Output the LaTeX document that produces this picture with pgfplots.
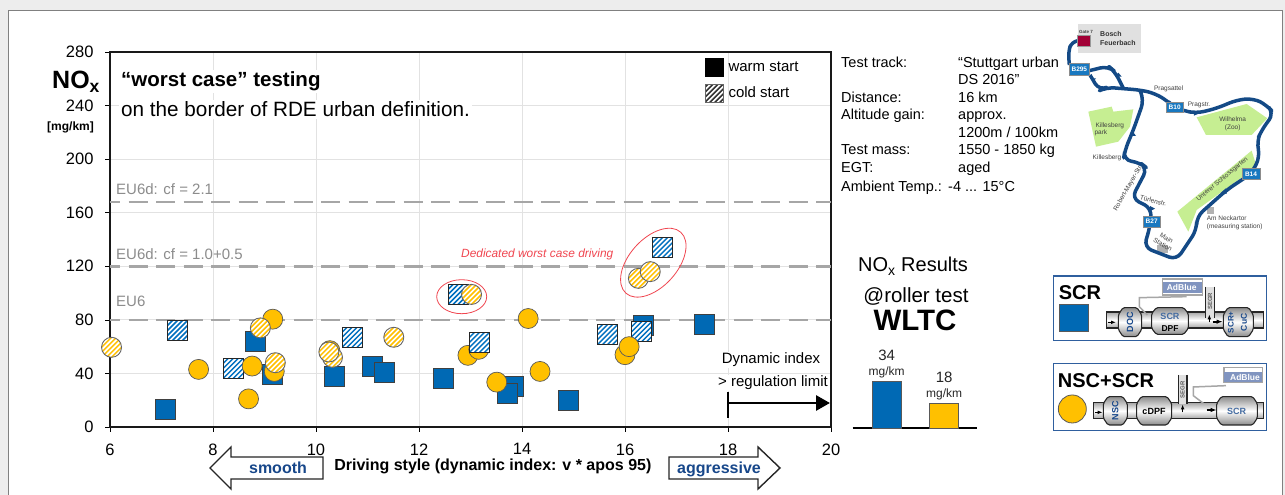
\documentclass[border=0pt]{standalone}
\usepackage{fontspec}
\setmainfont{Liberation Sans}
\usepackage{pgfplots}
\pgfplotsset{compat=1.18}
\usetikzlibrary{arrows.meta}

\definecolor{bblue}{RGB}{0,105,180}
\definecolor{borange}{RGB}{255,192,0}
\definecolor{hblue}{RGB}{0,112,192}
\definecolor{dashgray}{RGB}{166,166,166}
\definecolor{eugray}{RGB}{140,140,140}
\definecolor{gridgray}{RGB}{226,226,226}
\definecolor{navy}{RGB}{23,71,138}
\definecolor{route}{RGB}{20,74,134}
\definecolor{parkgreen}{RGB}{198,238,146}
\definecolor{roadblue}{RGB}{24,120,192}
\definecolor{boxblue}{RGB}{47,95,158}
\definecolor{adblue}{RGB}{128,148,192}
\definecolor{wred}{RGB}{240,70,80}

\newcommand\fs[1]{\fontsize{#1}{#1}\selectfont}
% text at baseline
\newcommand\txt[4]{\node[anchor=base west,inner sep=0pt] at (#1,#2) {\fs{#3}#4};}
\newcommand\ctxt[4]{\node[anchor=base,inner sep=0pt] at (#1,#2) {\fs{#3}#4};}

\newcommand\stripes[1]{%
  \pgfsetstrokecolor{#1}\pgfsetlinewidth{1.5pt}%
  \foreach \d in {-25,-20,...,25}{%
    \pgfpathmoveto{\pgfpointadd{\pgfpoint{\d pt}{0pt}}{\pgfpoint{-12pt}{-12pt}}}%
    \pgfpathlineto{\pgfpointadd{\pgfpoint{\d pt}{0pt}}{\pgfpoint{12pt}{12pt}}}%
  }%
  \pgfusepath{stroke}}
\pgfdeclareplotmark{hsq}{%
  \pgfsetfillcolor{white}\pgfpathrectangle{\pgfpoint{-10pt}{-10pt}}{\pgfpoint{20pt}{20pt}}\pgfusepath{fill}%
  \pgfscope\pgfpathrectangle{\pgfpoint{-10pt}{-10pt}}{\pgfpoint{20pt}{20pt}}\pgfusepath{clip}\stripes{hblue}\endpgfscope
  \pgfsetstrokecolor{black!85}\pgfsetlinewidth{0.9pt}%
  \pgfpathrectangle{\pgfpoint{-10pt}{-10pt}}{\pgfpoint{20pt}{20pt}}\pgfusepath{stroke}}
\pgfdeclareplotmark{hci}{%
  \pgfsetfillcolor{white}\pgfpathcircle{\pgfpointorigin}{10pt}\pgfusepath{fill}%
  \pgfscope\pgfpathcircle{\pgfpointorigin}{10pt}\pgfusepath{clip}\stripes{borange}\endpgfscope
  \pgfsetstrokecolor{black!60}\pgfsetlinewidth{0.9pt}%
  \pgfpathcircle{\pgfpointorigin}{10pt}\pgfusepath{stroke}}
\pgfdeclareplotmark{hleg}{%
  \pgfsetfillcolor{white}\pgfpathrectangle{\pgfpoint{-9pt}{-9pt}}{\pgfpoint{18pt}{18pt}}\pgfusepath{fill}%
  \pgfscope\pgfpathrectangle{\pgfpoint{-9pt}{-9pt}}{\pgfpoint{18pt}{18pt}}\pgfusepath{clip}\stripes{black!80}\endpgfscope
  \pgfsetstrokecolor{black!60}\pgfsetlinewidth{0.8pt}%
  \pgfpathrectangle{\pgfpoint{-9pt}{-9pt}}{\pgfpoint{18pt}{18pt}}\pgfusepath{stroke}}

\pgfplotstableread{
x y
7.07 13
8.82 64
9.16 39
10.36 38
11.09 45
11.33 41
12.48 36
13.84 30
13.72 25
14.90 20
16.36 76
17.54 77
}\warmsq
\pgfplotstableread{
x y
12.95 53.5
13.16 58
}\warmciA
\pgfplotstableread{
x y
7.31 72
8.40 44
10.70 67
13.17 63
12.76 99
15.66 69
16.32 71
16.73 134
}\coldsq
\pgfplotstableread{
x y
7.72 43
8.69 21
8.76 45.5
9.16 80.5
9.19 41.5
10.27 57
14.12 81
14.35 41.5
13.51 33.5
16.00 54
16.08 60
}\warmciB
\pgfplotstableread{
x y
6.03 59.5
8.92 74
9.21 48
10.32 52
10.25 56
11.51 67
13.02 99
16.26 111
16.49 116
}\coldci

% exhaust can: x1 x2 top bottom in zoom units
\newcommand\can[4]{%
  \draw[black!85,line width=1.1pt,rounded corners=1.5pt,top color=black!45,bottom color=black!45,middle color=white]
    (#1,{(#3+#4)/2-22}) -- (#1+14,#3) -- (#2-14,#3) -- (#2,{(#3+#4)/2-22}) -- (#2,{(#3+#4)/2+22}) -- (#2-14,#4) -- (#1+14,#4) -- (#1,{(#3+#4)/2+22}) -- cycle;}
\newcommand\pipe[3]{%
  \draw[black!85,line width=1.1pt,top color=black!35,bottom color=black!35,middle color=white,shading angle=0]
    (#1,#3-24) rectangle (#2,#3+24);}
\newcommand\egr[3]{%
  \fill[black!12] (#1,#2) rectangle (#1+26,#3);
  \draw[black!85,line width=1.1pt] (#1,#2) -- (#1,#3) (#1+26,#2) -- (#1+26,#3);
  \node[rotate=90,text=black!65,inner sep=0pt] at (#1+13,{#2+44}) {\fs{6}\bfseries SEGR};}

\begin{document}
\begin{tikzpicture}
\begin{scope}[yshift=495pt,x=1pt,y=-1pt]
  \path[use as bounding box] (0,0) rectangle (1285,495);
  \fill[black!7] (0,0) rectangle (1285,495);
  \fill[white] (8,10) rectangle (1282,495);
  \draw[black!50,line width=0.8pt] (8,495) -- (8,10) -- (1282,10) -- (1282,495);
\end{scope}

\begin{axis}[
    at={(110pt,68pt)},anchor=south west,
    scale only axis,width=721pt,height=375pt,
    xmin=6,xmax=20,ymin=0,ymax=280,
    xtick={6,8,...,20},ytick={0,40,...,280},
    grid=major,
    grid style={gridgray,line width=0.8pt},
    tick align=outside,xtick pos=bottom,ytick pos=left,
    major tick length=5pt,
    tick style={black,line width=0.7pt},
    axis line style={black!90,line width=1.4pt},
    ticklabel style={font=\fs{16.5}},
    /pgf/number format/assume math mode=true,
    xticklabel style={yshift=-8pt},
    yticklabel style={xshift=-8pt},
    xlabel={\fs{16}\bfseries Driving style (dynamic index: v * apos 95)},
    xlabel style={at={(axis description cs:0.531,0)},anchor=center,yshift=-39pt,inner sep=0pt},
    clip=false,
    legend style={at={(axis description cs:0.8246,0.984)},anchor=north west,draw=none,fill=none,
       font=\fs{15},row sep=7.5pt,inner sep=0pt,nodes={inner xsep=5pt,inner ysep=1.5pt}},
    legend cell align=left,
    every axis plot/.append style={forget plot},
  ]
  \addplot[dashgray,line width=2.7pt,dash pattern=on 19pt off 8.5pt,dash phase=9pt] coordinates {(6,168) (20,168)};
  \addplot[dashgray,line width=2.7pt,dash pattern=on 19pt off 8.5pt,dash phase=9pt] coordinates {(6,120) (20,120)};
  \addplot[dashgray,line width=2.7pt,dash pattern=on 19pt off 8.5pt,dash phase=9pt] coordinates {(6,80) (20,80)};
  \addplot[only marks,mark=square*,mark size=10pt,mark options={fill=bblue,draw=black!75,line width=0.7pt}] table {\warmsq};
  \addplot[only marks,mark=*,mark size=10pt,mark options={fill=borange,draw=black!65,line width=0.7pt}] table {\warmciA};
  \addplot[only marks,mark=hsq] table {\coldsq};
  \addplot[only marks,mark=*,mark size=10pt,mark options={fill=borange,draw=black!65,line width=0.7pt}] table {\warmciB};
  \addplot[only marks,mark=hci] table {\coldci};
  \addlegendimage{only marks,mark=square*,mark size=9pt,mark options={fill=black,draw=black}}
  \addlegendentry{warm start}
  \addlegendimage{only marks,mark=hleg}
  \addlegendentry{cold start}
\end{axis}

\begin{axis}[
    at={(852.7pt,67pt)},anchor=south west,
    scale only axis,width=124.3pt,height=68pt,
    xmin=-0.59,xmax=1.57,ymin=0,ymax=50,
    axis x line=bottom,axis y line=none,
    axis line style={black,line width=1.2pt,-},
    xtick=\empty,ytick=\empty,
    clip=false,
    /pgf/number format/assume math mode=true,
    ybar,bar width=29.3pt,bar shift=0pt,
    nodes near coords={\fs{15}\pgfmathprintnumber{\pgfplotspointmeta}\\[3.5pt]\fs{12}mg/km},
    nodes near coords style={align=center,inner sep=1pt,text=black!85,anchor=south,yshift=2pt},
  ]
  \addplot[fill=bblue,draw=black!65,line width=0.8pt] coordinates {(0,34)};
  \addplot[fill=borange,draw=black!65,line width=0.8pt] coordinates {(1,18)};
\end{axis}

\begin{scope}[yshift=495pt,x=1pt,y=-1pt]
  % text in the plot
  \node[anchor=base west,inner sep=2pt,fill=white] at (119,87) {\fs{20.5}\bfseries “worst case” testing};
  \node[anchor=base west,inner sep=2pt,fill=white] at (119,117) {\fs{20.7}on the border of RDE urban definition.};
  \txt{52}{89}{25}{\bfseries NO\textsubscript{x}}
  \txt{47}{131}{12}{\bfseries [mg/km]}
  \begin{scope}[text=eugray]
  \txt{116}{195}{15}{EU6d: cf = 2.1}
  \txt{116}{260}{15}{EU6d: cf = 1.0+0.5}
  \txt{116}{307}{15}{EU6}
  \end{scope}
  \txt{461}{258}{11.9}{\itshape\color{wred}Dedicated worst case driving}
  \draw[wred,line width=0.8pt] (461.7,296.7) ellipse [x radius=25pt,y radius=17pt];
  \draw[wred,line width=0.8pt,rotate around={48:(653.3,262.7)}] (653.3,262.7) ellipse [x radius=41pt,y radius=24pt];

  % dynamic index arrow
  \node[anchor=base,inner sep=1pt,fill=white] at (771,364) {\fs{15}Dynamic index};
  \node[anchor=base,inner sep=1pt,fill=white] at (773,387) {\fs{15}> regulation limit};
  \draw[black,line width=2.8pt] (728,392) -- (728,418);
  \draw[black,line width=2.8pt,-{Triangle[length=14pt,width=15pt]}] (728,403) -- (830,403);

  % smooth / aggressive block arrows
  \draw[black!85,line width=1.4pt,fill=white] (323,457) -- (231,457) -- (231,447) -- (210,468) -- (231,489) -- (231,479) -- (323,479) -- cycle;
  \draw[black!85,line width=1.4pt,fill=white] (669,457) -- (758,457) -- (758,447) -- (780,468) -- (758,489) -- (758,479) -- (669,479) -- cycle;
  \ctxt{278}{474}{16}{\bfseries\color{navy}smooth}
  \ctxt{719}{474}{16}{\bfseries\color{navy}aggressive}

  % test data
  \txt{841}{67.3}{14.5}{Test track:}
  \txt{958}{67.3}{14.5}{“Stuttgart urban}
  \txt{958}{85}{14.5}{DS 2016”}
  \txt{841}{102.5}{14.5}{Distance:}
  \txt{958}{102.5}{14.5}{16 km}
  \txt{841}{120}{14.5}{Altitude gain:}
  \txt{958}{120}{14.5}{approx.}
  \txt{958}{137.7}{14.5}{1200m / 100km}
  \txt{841}{155}{14.5}{Test mass:}
  \txt{958}{155}{14.5}{1550 - 1850 kg}
  \txt{841}{173}{14.5}{EGT:}
  \txt{958}{173}{14.5}{aged}
  \txt{841}{191.5}{14.5}{Ambient Temp.:}
  \txt{948}{191.5}{14.5}{-4 ... 15°C}

  % WLTC heading
  \ctxt{913}{272}{20}{NO\textsubscript{x} Results}
  \ctxt{916}{302.5}{20.5}{@roller test}
  \ctxt{915}{331}{29.5}{\bfseries WLTC}

  % route map, coordinates in units of 1/3 px
  \begin{scope}[shift={(1040,10)},x=0.3333pt,y=-0.3333pt]
    \fill[black!12] (115,42) rectangle (303,128);
    \fill[parkgreen] (145,305) -- (215,290) -- (220,305) -- (280,298) -- (270,350) -- (235,395) -- (168,410) -- cycle;
    \fill[parkgreen] (470,322) -- (620,282) -- (682,325) -- (635,375) -- (498,375) -- cycle;
    \fill[parkgreen] (412,605) -- (635,422) -- (650,470) -- (470,600) -- (445,665) -- cycle;
    \fill[black!30] (500,590) rectangle (522,612);
    \fill[black!30] (350,705) rectangle (383,730);
    \draw[route,line width=3.5pt,line join=round,rounded corners=6pt]
      (115,92) -- (95,95) -- (85,125) -- (88,165);
    \draw[route,line width=3.5pt,line join=round,rounded corners=8pt]
      (148,182) -- (205,168) -- (225,185) -- (250,235);
    \draw[route,line width=3.5pt,line join=round,rounded corners=8pt]
      (150,195) -- (178,242) -- (200,232) -- (300,240) -- (345,250) -- (385,275) -- (403,292) -- (430,302) -- (470,310) -- (530,295) -- (590,270) -- (640,265) -- (680,285) -- (702,310) -- (665,360) -- (650,395) -- (660,440) -- (635,490) -- (560,540) -- (470,620) -- (470,660) -- (410,750) -- (312,712) -- (330,650) -- (335,595) -- (275,565) -- (322,475) -- (300,458) -- (250,450) -- (255,420) -- (280,360) -- (312,270) -- (300,242);
    \fill[route] (155,205) -- (168,205) -- (160,215) -- cycle;
    \fill[route] (225,200) -- (245,200) -- (235,188) -- cycle;
    \fill[route] (462,303) -- (478,310) -- (462,317) -- cycle;
    \fill[route] (268,378) -- (288,378) -- (278,364) -- cycle;
    \fill[route] (543,548) -- (558,535) -- (560,552) -- cycle;
    \fill[route] (330,588) -- (345,596) -- (330,604) -- cycle;
    \fill[black!15!purple,draw=black!40] (113,75) rectangle (152,108);
    \foreach \xa/\ya/\xb/\yb/\lab in {88/160/148/195/B295,378/276/430/308/B10,606/475/660/508/B14,310/618/360/652/B27}{
      \fill[roadblue,draw=black!45] (\xa,\ya) rectangle (\xb,\yb);
      \node[text=white,inner sep=0pt] at ({(\xa+\xb)/2},{(\ya+\yb)/2}) {\fs{6.5}\bfseries\lab};
    }
    \begin{scope}[text=black!75,every node/.style={font=\fs{6.5},inner sep=0pt}]
    \node at (138,65) {\fs{4.5}\bfseries Gate 7};
    \node[anchor=west,text=black!80] at (180,73) {\fs{7}\bfseries Bosch};
    \node[anchor=west,text=black!80] at (180,98) {\fs{7}\bfseries Feuerbach};
    \node at (386,236) {Pragsattel};
    \node at (477,284) {Pragstr.};
    \node[align=left] at (208,358) {\hspace*{1pt}Killesberg\\[1pt]park};
    \node[align=center] at (578,341) {Wilhelma\\[1pt](Zoo)};
    \node at (201,443) {Killesberg};
    \node[rotate=60] at (265,534) {Robert-Mayer-Str.};
    \node[rotate=-15] at (340,572) {Türlenstr.};
    \node[rotate=40] at (547,508) {Unterer Schlossgarten};
    \node[anchor=west] at (500,626) {Am Neckartor};
    \node[anchor=west] at (500,650) {(measuring station)};
    \node[rotate=-30,align=center] at (374,694) {Main\\[1pt]Station};
    \end{scope}
  \end{scope}

  % exhaust schemes, coordinates in units of 1/3 px
  \begin{scope}[shift={(1040,265)},x=0.3333pt,y=-0.3333pt]
    \draw[boxblue,line width=1.3pt,fill=white] (40,33) rectangle (680,226);
    \draw[boxblue,line width=1.3pt,fill=white] (40,295) rectangle (680,497);
    \node[anchor=base west,inner sep=0pt] at (56,104) {\fs{20}\bfseries SCR};
    \node[anchor=base west,inner sep=0pt] at (53,368) {\fs{20}\bfseries NSC+SCR};
    \fill[bblue,draw=black!65,line width=0.8pt] (58,118) rectangle (144,200);
    \filldraw[fill=borange,draw=black!65,line width=0.8pt] (97,432) circle [radius=14pt];
    % SCR line
    \pipe{200}{670}{165}
    \egr{497}{65}{158}
    \can{235}{305}{128}{215}
    \can{335}{445}{128}{208}
    \can{550}{640}{128}{215}
    \draw[black!35,line width=1.5pt] (440,95) -- (298,98) -- (298,125) -- (322,150);
    \fill[white,draw=black!35,line width=1.5pt] (368,42) rectangle (487,90);
    \fill[adblue] (368,52) rectangle (487,83);
    \node[text=white,inner sep=0pt] at (425,67) {\fs{8.5}\bfseries AdBlue};
    \node[rotate=90,text=navy,inner sep=0pt] at (270,172) {\fs{9}\bfseries DOC};
    \node[text=navy!80,inner sep=0pt] at (390,155) {\fs{9}\bfseries SCR};
    \node[inner sep=0pt] at (390,192) {\fs{8.5}\bfseries DPF};
    \node[rotate=90,text=navy,inner sep=0pt] at (573,172) {\fs{8}\bfseries SCR+};
    \node[rotate=90,text=navy,inner sep=0pt] at (612,172) {\fs{8.5}\bfseries CuC};
    \draw[-{Latex[length=5pt]},line width=1.1pt] (205,172) -- (228,172);
    \draw[-{Latex[length=5pt]},line width=1.1pt] (508,172) -- (508,148);
    \draw[-{Latex[length=6pt]},line width=1.8pt] (518,170) -- (548,170);
    % NSC line
    \pipe{160}{670}{437}
    \egr{415}{330}{418}
    \can{190}{262}{395}{480}
    \can{290}{395}{395}{480}
    \can{530}{652}{395}{480}
    \draw[black!35,line width=1.5pt] (558,362) -- (460,366) -- (460,392) -- (490,415);
    \fill[white,draw=black!35,line width=1.5pt] (552,308) rectangle (667,352);
    \fill[adblue] (552,322) rectangle (667,352);
    \node[text=white,inner sep=0pt] at (615,337) {\fs{8.5}\bfseries AdBlue};
    \node[rotate=90,text=navy,inner sep=0pt] at (226,438) {\fs{9}\bfseries NSC};
    \node[inner sep=0pt] at (342,438) {\fs{9}\bfseries cDPF};
    \node[text=navy!80,inner sep=0pt] at (590,438) {\fs{9}\bfseries SCR};
    \draw[-{Latex[length=5pt]},line width=1.1pt] (165,442) -- (188,442);
    \draw[-{Latex[length=5pt]},line width=1.1pt] (428,442) -- (428,418);
    \draw[-{Latex[length=6pt]},line width=1.8pt] (500,435) -- (530,435);
  \end{scope}
\end{scope}
\end{tikzpicture}
\end{document}
